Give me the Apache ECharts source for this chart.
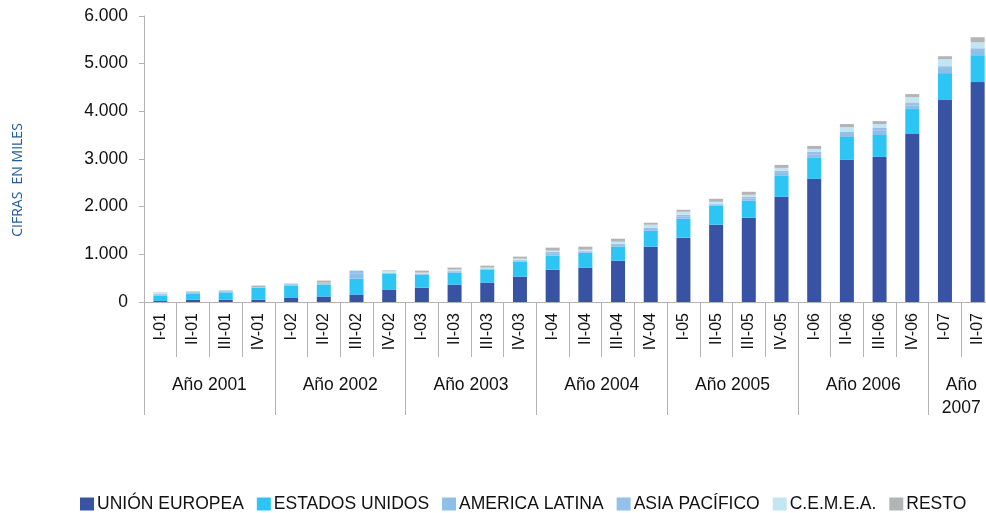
<!DOCTYPE html>
<html>
<head>
<meta charset="utf-8">
<script src="https://cdn.jsdelivr.net/npm/echarts@6/dist/echarts.min.js"></script>
<style>
html, body { margin: 0; padding: 0; background: #fff; overflow: hidden; }
#Chart { width: 986px; height: 513px; }
</style>
</head>
<body>
<div id="Chart"></div>
<script>
// datos trimestrales (cifras en miles)
var quarters = ['I-01','II-01','III-01','IV-01','I-02','II-02','III-02','IV-02','I-03','II-03','III-03','IV-03',
    'I-04','II-04','III-04','IV-04','I-05','II-05','III-05','IV-05','I-06','II-06','III-06','IV-06','I-07','II-07'];
var years = ['Año 2001','Año 2002','Año 2003','Año 2004','Año 2005','Año 2006','Año\n2007'];
var yearCenters = [2, 6, 10, 14, 18, 22, 25];
var yearBounds = [0, 4, 8, 12, 16, 20, 24];
var yTicks = [0, 1000, 2000, 3000, 4000, 5000, 6000];

var unionEuropea = [20, 50, 50, 50, 95, 115, 157, 262, 300, 366, 408, 533, 680, 722, 868, 1161, 1350, 1621, 1768, 2207, 2584, 2981, 3044, 3525, 4236, 4613];
var estadosUnidos = [115, 128, 150, 250, 250, 250, 335, 334, 275, 251, 272, 314, 293, 313, 293, 335, 397, 398, 356, 439, 439, 480, 459, 523, 565, 564];
var americaLatina = [25, 25, 25, 5, 25, 25, 100, 10, 12, 25, 12, 25, 50, 25, 38, 37, 50, 25, 50, 62, 76, 63, 88, 76, 88, 88];
var asiaPacifico = [12, 15, 15, 5, 17, 15, 67, 10, 9, 17, 10, 17, 33, 17, 25, 25, 33, 17, 33, 42, 50, 42, 59, 50, 58, 59];
var cemea = [20, 0, 0, 0, 0, 0, 0, 43, 21, 21, 20, 21, 21, 21, 42, 63, 63, 42, 42, 63, 62, 104, 83, 125, 146, 125];
var resto = [8, 5, 5, 35, 0, 45, 0, 10, 42, 42, 41, 42, 63, 63, 62, 42, 42, 62, 63, 63, 63, 63, 63, 63, 63, 105];

var lineColor = '#b3b3b3';
var fontName = '"Liberation Sans", Arial, sans-serif';

function miles(v) {
    return String(v).replace(/\B(?=(\d{3})+(?!\d))/g, '.');
}

var myChart = echarts.init(document.getElementById('Chart'));
var serie = function (name, data, color) {
    return {
        name: name,
        type: 'bar',
        stack: 'total',
        barWidth: 14,
        xAxisIndex: 0,
        data: data,
        itemStyle: { color: color }
    };
};
var option = {
    animation: false,
    textStyle: { fontFamily: fontName },
    grid: {
        left: 144,
        width: 850,
        top: 16,
        bottom: 211,
        outerBoundsMode: 'none'
    },
    legend: {
        left: 75,
        top: 490,
        icon: 'rect',
        itemWidth: 14,
        itemHeight: 13,
        itemGap: 13,
        textStyle: { fontSize: 17.5, color: '#111', fontFamily: fontName, padding: [0, 0, 0, -2] },
        data: ['UNIÓN EUROPEA', 'ESTADOS UNIDOS', 'AMERICA LATINA', 'ASIA PACÍFICO', 'C.E.M.E.A.', 'RESTO']
    },
    xAxis: [
        {
            type: 'category',
            data: quarters,
            position: 'bottom',
            boundaryGap: true,
            axisLine: { show: true, lineStyle: { color: lineColor } },
            axisTick: { show: true, interval: 0, length: 55, lineStyle: { color: lineColor } },
            axisLabel: { interval: 0, rotate: 90, margin: 11, fontSize: 16, color: '#111' }
        },
        {
            type: 'value',
            min: 0,
            max: 26,
            position: 'bottom',
            axisLine: { show: false },
            splitLine: { show: false },
            axisTick: { show: true, length: 113, customValues: yearBounds, lineStyle: { color: lineColor } },
            axisLabel: {
                customValues: yearCenters,
                margin: 72,
                fontSize: 17.5,
                lineHeight: 23,
                color: '#111',
                formatter: function (v) {
                    return years[yearCenters.indexOf(v)];
                }
            }
        }
    ],
    yAxis: {
        type: 'value',
        min: yTicks[0],
        max: yTicks[yTicks.length - 1],
        interval: 1000,
        name: 'CIFRAS  EN MILES',
        nameLocation: 'middle',
        nameGap: 119,
        nameTextStyle: {
            color: '#1f5c99',
            fontSize: 14,
            fontFamily: '"Open Sans", "Noto Sans", sans-serif',
            padding: [0, 42, 0, 0]
        },
        axisLine: { show: true, lineStyle: { color: lineColor } },
        axisTick: { show: true, length: 5, lineStyle: { color: lineColor } },
        splitLine: { show: false },
        axisLabel: {
            margin: 16,
            fontSize: 17.5,
            color: '#111',
            formatter: miles
        }
    },
    series: [
        serie('UNIÓN EUROPEA', unionEuropea, '#3953a4'),
        serie('ESTADOS UNIDOS', estadosUnidos, '#2cc5f4'),
        serie('AMERICA LATINA', americaLatina, '#8dbfe7'),
        serie('ASIA PACÍFICO', asiaPacifico, '#93c1e9'),
        serie('C.E.M.E.A.', cemea, '#c2e6f1'),
        serie('RESTO', resto, '#b3b4b8')
    ]
};
myChart.setOption(option);
window.addEventListener('resize', function () {
    myChart.resize();
});
</script>
</body>
</html>
